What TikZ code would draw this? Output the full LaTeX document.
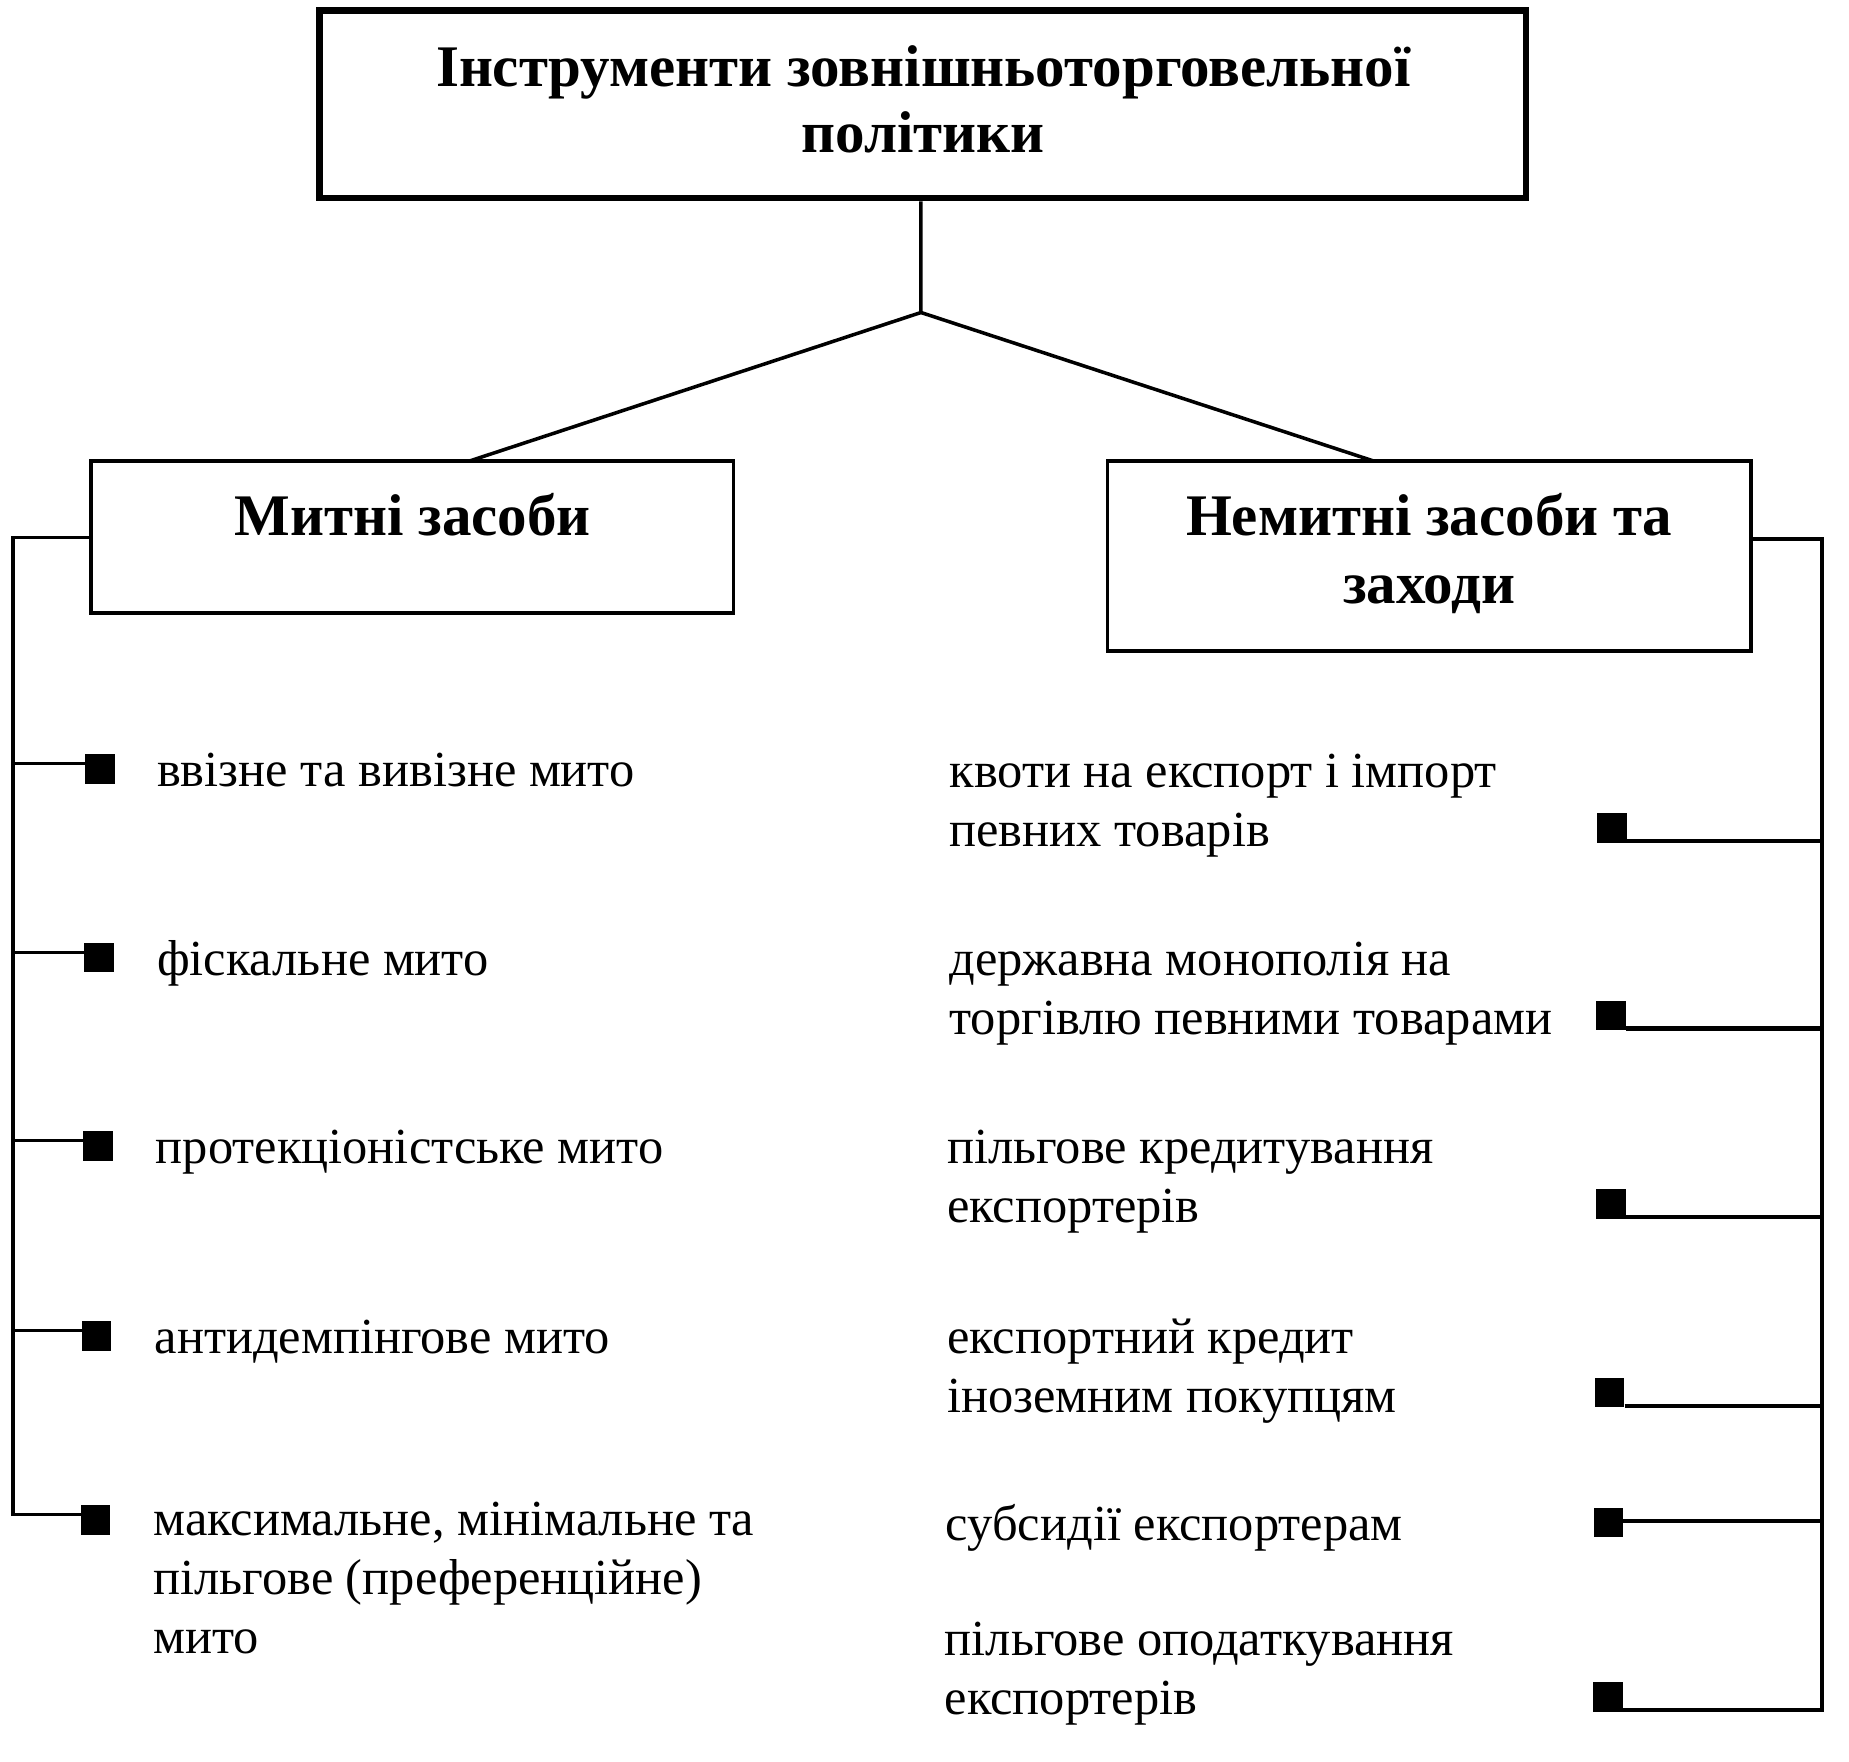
\documentclass[tikz,border=0pt]{standalone}
\usepackage{fontspec}
\setmainfont{Liberation Serif}
\begin{document}
\begin{tikzpicture}[x=1pt,y=-1pt,
  itemtext/.style={font=\fontsize{42.8}{50}\selectfont, anchor=base west, align=left, inner sep=0pt},
  headtext/.style={font=\fontsize{50}{58}\selectfont\bfseries, anchor=base, align=center, inner sep=0pt},
  boxstyle/.style={draw, line width=3pt, inner sep=0pt},
  sqr/.style={fill=black, minimum size=25pt, inner sep=0pt},
  conn/.style={line width=3pt},
  lconn/.style={line width=2.5pt},
  rconn/.style={line width=3.5pt}]
\useasboundingbox (0,0) rectangle (1568,1494.2);
% top box
\node[draw, line width=5.5pt, minimum width=1023pt, minimum height=159pt, inner sep=0pt] (top) at (782.5,88.5) {};
\node[font=\fontsize{50}{56}\selectfont\bfseries, anchor=base, align=center, inner sep=0pt] (title) at (783,129)
  {Інструменти зовнішньоторговельної\\політики};
% second level boxes
\node[boxstyle, minimum width=545pt, minimum height=129pt] (lbox) at (349.5,455.5) {};
\node[boxstyle, minimum width=546pt, minimum height=161pt] (rbox) at (1212,471.5) {};
\node[headtext] (ltitle) at (350,454) {Митні засоби};
\node[headtext] (rtitle) at (1212,512) {Немитні засоби та\\заходи};
% fork
\coordinate (fork) at (781,265);
\coordinate (lj) at (398,391);
\coordinate (rj) at (1165,391);
\draw[conn] (top.south -| fork) -- (fork) -- (lj);
\draw[conn] (fork) -- (rj);
% left squares
\node[sqr] (l1) at (85,652) {};
\node[sqr] (l2) at (84,812) {};
\node[sqr] (l3) at (83,972) {};
\node[sqr] (l4) at (82,1133) {};
\node[sqr] (l5) at (81,1289) {};
% left texts
\node[itemtext] (lt1) at (133,667) {ввізне та вивізне мито};
\node[itemtext] (lt2) at (133,827) {фіскальне мито};
\node[itemtext] (lt3) at (132,987) {протекціоністське мито};
\node[itemtext] (lt4) at (131,1148) {антидемпінгове мито};
\node[itemtext] (lt5) at (130,1402) {максимальне, мінімальне та\\пільгове (преференційне)\\мито};
% left bracket
\coordinate (lv) at (11,456);
\draw[conn] (lbox.west |- lv) -- (lv) |- ([yshift=4.5pt]l5.west);
\foreach \i in {1,2,3,4}{
  \coordinate (lc\i) at ([yshift=4.5pt]l\i.west);
  \draw[lconn] (lc\i -| lv) -- (lc\i);
}
% right squares
\node[sqr] (r1) at (1367,702) {};
\node[sqr] (r2) at (1366,861) {};
\node[sqr] (r3) at (1366,1021) {};
\node[sqr] (r4) at (1365,1181) {};
\node[sqr] (r5) at (1364,1291) {};
\node[sqr] (r6) at (1363.5,1439) {};
% right texts
\node[itemtext] (rt1) at (805,718) {квоти на експорт і імпорт\\певних товарів};
\node[itemtext] (rt2) at (805,877) {державна монополія на\\торгівлю певними товарами};
\node[itemtext] (rt3) at (803,1037) {пільгове кредитування\\експортерів};
\node[itemtext] (rt4) at (803,1198) {експортний кредит\\іноземним покупцям};
\node[itemtext] (rt5) at (802,1306) {субсидії експортерам};
\node[itemtext] (rt6) at (801,1454) {пільгове оподаткування\\експортерів};
% right bracket
\coordinate (rv) at (1545,457);
\coordinate (rc6) at ([yshift=1.5pt]r6.south east);
\draw[conn] (rbox.east |- rv) -- (rv) |- (rc6);
\foreach \i in {1,2,3,4}{
  \coordinate (rc\i) at ([yshift=1.5pt]r\i.south east);
  \draw[rconn] (rc\i) -- (rc\i -| rv);
}
\coordinate (rc5) at ([yshift=1.5pt]r5.east);
\draw[rconn] (rc5) -- (rc5 -| rv);
\end{tikzpicture}
\end{document}
